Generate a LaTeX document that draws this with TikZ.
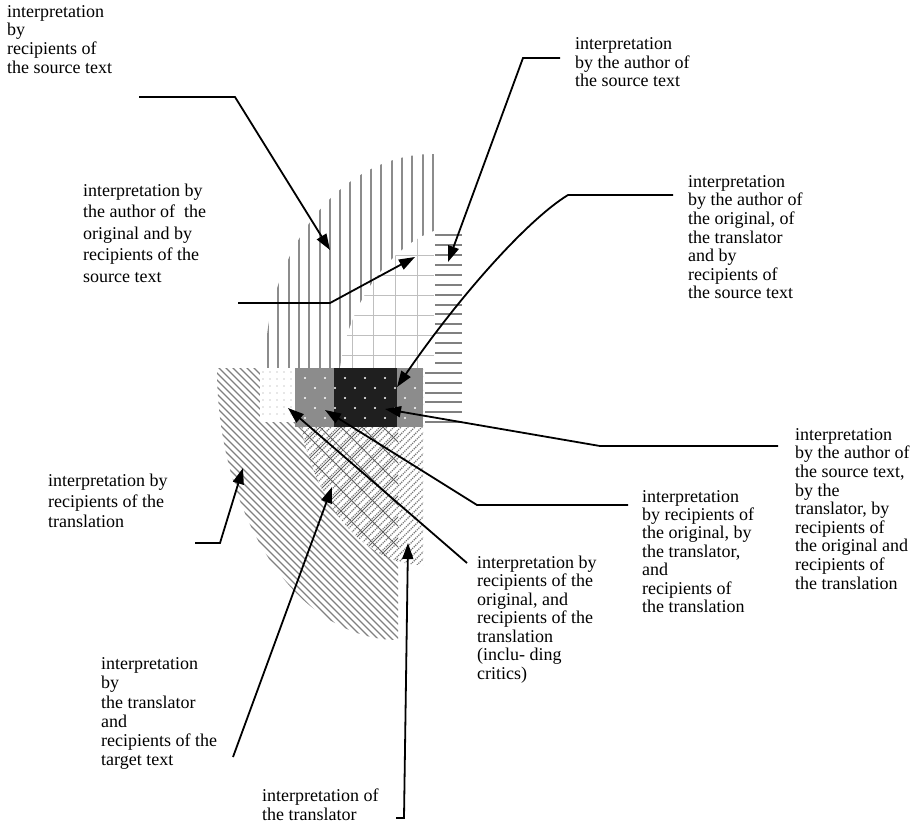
\documentclass[tikz,border=0pt]{standalone}
\usepackage{fontspec}
\setmainfont{Liberation Serif}
\usetikzlibrary{arrows.meta}
\begin{document}
\begin{tikzpicture}[x=1pt,y=-1pt,
  lbl/.style={anchor=north west, inner sep=0pt, align=left, font=\fontsize{18}{#1}\selectfont},
  lbl/.default=18.5,
  arr/.style={line width=1.8pt, -{Triangle[length=16pt,width=11pt]}},
  vh/.style={draw=black!45, line width=2pt},
  hh/.style={draw=black!50, line width=2pt},
  dh/.style={draw=black!50, line width=1.1pt},
  dd/.style={draw=black!55, line width=1.1pt, dash pattern=on 1.2pt off 1pt},
  gridl/.style={draw=black!25, line width=1pt},
  cross/.style={draw=black!62, line width=0.9pt},
  wdot/.style={fill=white},
  ldot/.style={fill=black!40}
]
\useasboundingbox (0,0) rectangle (922,823);
\fill[white] (0,0) rectangle (922,823);

% Region A: vertical lines (recipients of the source text)
\begin{scope}
  \clip (262,150) rectangle (434,368);
  \clip (433,368) ellipse [x radius=168pt, y radius=214pt];
  \foreach \x in {268,278,289,299,309,320,330,340,350,361,371,381,392,402,412,423,433}
    \draw[vh] (\x,150) -- (\x,368);
\end{scope}

% Overlap of A and B: faint grid
\begin{scope}
  \clip (340,368) .. controls (350,295) and (395,245) .. (434,231) -- (434,368) -- cycle;
  \fill[white] (330,220) rectangle (434,368);
  \foreach \y in {255,275,...,360} \draw[gridl] (330,\y) -- (434,\y);
  \foreach \x in {352,373,395,417} \draw[gridl] (\x,220) -- (\x,368);
\end{scope}

% Region B: horizontal lines (author of the source text)
\foreach \y in {235,245,255,265,275,285,295,305,314,324,333,343,353,363,373,383,393,402,412,422}
  \draw[hh] (435,\y) -- (462,\y);
\foreach \y in {373,383,393,402,412,422} \draw[hh] (425,\y) -- (435,\y);

% Region C: diagonal lines (recipients of the translation)
\begin{scope}
  \clip (210,368) rectangle (398,650);
  \clip (398,368) ellipse [x radius=181pt, y radius=272pt];
  \foreach \c in {-40,-33,...,450} \draw[dh] (200,200+\c) -- (420,420+\c);
\end{scope}

% Region D: translator
\begin{scope}
  \clip (290,368) rectangle (423,570);
  \clip (423,368) ellipse [x radius=128pt, y radius=197pt];
  \fill[white] (290,368) rectangle (423,570);
  \foreach \c in {660,667,...,995} \draw[dd] (280,\c-280) -- (440,\c-440);
  \begin{scope}
    \clip (290,368) rectangle (398,570);
    \foreach \c in {-40,-19,...,280} \draw[cross] (280,280+\c) -- (420,420+\c);
    \foreach \c in {663,684,...,995} \draw[cross] (280,\c-280) -- (440,\c-440);
  \end{scope}
\end{scope}

% light dotted area
\fill[white] (260,368) rectangle (295,422);
\foreach \x in {263,270,...,293} \foreach \y in {372,379,...,420} \fill[ldot] (\x,\y) circle (0.6pt);

% grey and dark rectangles
\fill[black!45] (295,368) rectangle (423,427);
\fill[black!88] (334,368) rectangle (397,427);
\foreach \y/\o in {378/0,388/10,398/0,408/10,418/0}
  \foreach \x in {305,325,...,420} \fill[wdot] (\x+\o,\y) circle (1.1pt);

% labels
\node[lbl=18.7] (t1) at (7,3.9) {\strut interpretation\\by\\recipients of\\the source text};
\node[lbl=18] (t2) at (575,37) {\strut interpretation\\by the author of\\the source text};
\node[lbl=21.5] (t3) at (83,181) {\strut interpretation by\\the author of\ \ the\\original and by\\recipients of the\\source text};
\node[lbl=18.6] (t4) at (688,174) {\strut interpretation\\by the author of\\the original, of\\the translator\\and by\\recipients of\\the source text};
\node[lbl=18.6] (t5) at (795,427) {\strut interpretation\\by the author of\\the source text,\\by the\\translator, by\\recipients of\\the original and\\recipients of\\the translation};
\node[lbl=18.4] (t6) at (642,489) {\strut interpretation\\by recipients of\\the original, by\\the translator,\\and\\recipients of\\the translation};
\node[lbl=18.5] (t7) at (477,555) {\strut interpretation by\\recipients of the\\original, and\\recipients of the\\translation\\(inclu- ding\\critics)};
\node[lbl=20.5] (t8) at (48,472) {\strut interpretation by\\recipients of the\\translation};
\node[lbl=19.2] (t9) at (101,656) {\strut interpretation\\by\\the translator\\and\\recipients of the\\target text};
\node[lbl=19] (t10) at (262,787.5) {\strut interpretation of\\the translator};

% connector points
\coordinate (a1s) at (139,97);  \coordinate (a1b) at (235,97);  \coordinate (a1t) at (330,250);
\coordinate (a2s) at (560,58);  \coordinate (a2b) at (523,58);  \coordinate (a2t) at (448,262);
\coordinate (a3s) at (238,303); \coordinate (a3b) at (330,303); \coordinate (a3t) at (415,257);
\coordinate (a4s) at (673,195); \coordinate (a4b) at (568,195); \coordinate (a4t) at (397,387);
\coordinate (a5s) at (778,446); \coordinate (a5b) at (600,446); \coordinate (a5t) at (385,409);
\coordinate (a6s) at (628,505); \coordinate (a6b) at (477,505); \coordinate (a6t) at (325,410);
\coordinate (a7s) at (467,563); \coordinate (a7t) at (288,408);
\coordinate (a8s) at (195,543); \coordinate (a8b) at (220,543); \coordinate (a8t) at (243,468);
\coordinate (a9s) at (233,757); \coordinate (a9t) at (332,487);
\coordinate (a10s) at (396,818); \coordinate (a10b) at (404,818); \coordinate (a10t) at (408,543);

\draw[arr] (a1s) -- (a1b) -- (a1t);
\draw[arr] (a2s) -- (a2b) -- (a2t);
\draw[arr] (a3s) -- (a3b) -- (a3t);
\draw[arr] (a4s) -- (a4b) .. controls (527,220) and (458,298) .. (a4t);
\draw[arr] (a5s) -- (a5b) -- (a5t);
\draw[arr] (a6s) -- (a6b) -- (a6t);
\draw[arr] (a7s) -- (a7t);
\draw[arr] (a8s) -- (a8b) -- (a8t);
\draw[arr] (a9s) -- (a9t);
\draw[arr] (a10s) -- (a10b) -- (a10t);
\end{tikzpicture}
\end{document}
